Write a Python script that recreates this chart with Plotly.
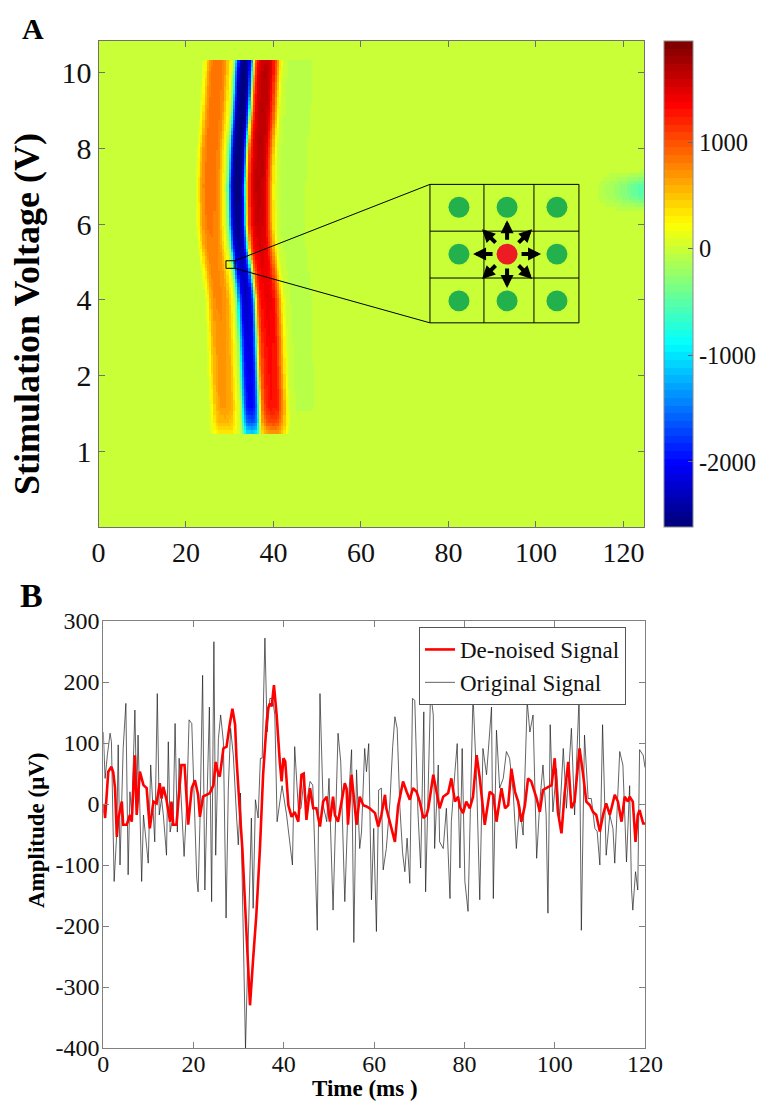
import numpy as np
import plotly.graph_objects as go

# ---------------- Panel A data ----------------
# band rows (axis index: 1->1V, 2->2V, 3->4V, 4->6V, 5->8V, 6->10V)
band_rows = [1.22, 1.4, 1.6, 2.0, 2.5, 3.0, 3.2, 3.41, 3.7, 4.0, 4.5, 5.0, 5.5, 6.0, 6.18]
band_center = [35.0, 34.9, 34.8, 34.5, 34.2, 33.8, 33.4, 32.9, 32.2, 31.8, 31.7, 32.0, 32.7, 33.2, 33.4]
band_amp = [0.45, 0.75, 0.9, 0.92, 0.95, 1.0, 1.0, 1.0, 1.05, 1.1, 1.15, 1.15, 1.15, 1.15, 1.1]
# field-potential profile relative to the negative peak (ms offset, uV)
prof_offset = [-9.6, -8.8, -8.2, -7.2, -5.8, -4.4, -3.7, -3.0, -2.3, -1.7, -1.0, 0.0, 1.0, 1.6, 2.1,
               2.6, 3.4, 4.8, 6.2, 7.3, 8.2, 9.0, 10.5, 14.0, 17.0, 23]
prof_value = [0, 250, 550, 740, 760, 660, 400, 170, -200, -1300, -2100, -2300, -2100, -1300, 150,
              900, 1300, 1450, 1350, 850, 300, -20, -55, -55, -30, 0]
# faint patch at right edge
patch_t = [113, 118, 124.7]
patch_tv = [0, -200, -550]
patch_u = [4.15, 4.38, 4.5, 4.72]
patch_uv = [0, 1, 1, 0]

z_min, z_max = -2610, 1947
y_ticks = [1, 2, 3, 4, 5, 6]
y_ticktext = ["1", "2", "4", "6", "8", "10"]

# ---------------- Panel B data ----------------
orig_t = [0, 0.4, 0.9, 1.5, 1.8, 2.4, 3.0, 3.3, 3.7, 4.1, 4.4, 5.0, 5.5, 5.9, 6.3, 7.0, 7.4, 7.7, 8.5, 8.9,
          9.2, 9.96, 10.5, 10.9, 11.4, 11.96, 12.4, 12.9, 13.3, 14.0, 14.4, 14.8, 15.5, 15.9, 16.4, 16.8,
          17.3, 17.9, 18.5, 19.0, 19.6, 19.9, 20.3, 20.7, 21.0, 21.4, 22.0, 22.5, 22.9, 23.5, 24.0, 24.5,
          24.9, 25.5, 26.0, 26.6, 27.2, 27.7, 28.2, 28.8, 29.5, 29.9, 30.4, 31.0, 31.5, 32.1, 32.8, 33.2,
          33.7, 34.3, 34.8, 35.2, 35.8, 36.3, 36.9, 37.5, 38.0, 38.5, 39.1, 39.6, 40.6, 41.9, 42.4, 43.2,
          43.8, 44.4, 45.0, 45.8, 46.4, 47.4, 48.0, 48.7, 49.5, 50.0, 50.9, 52.0, 52.6, 53.5, 54.2, 55.0,
          55.5, 56.1, 56.8, 57.2, 57.9, 58.3, 58.8, 59.4, 59.9, 60.5, 61.0, 61.6, 62.0, 62.7, 63.5, 64.1,
          64.6, 65.1, 65.7, 66.3, 66.8, 67.3, 67.9, 68.5, 69.0, 69.7, 70.3, 71.0, 71.4, 72.0, 72.5, 73.1,
          73.4, 74.2, 74.5, 75.3, 76.0, 76.8, 77.1, 77.9, 78.4, 79.0, 79.5, 80.1, 80.8, 81.9, 82.7, 83.4,
          84.1, 84.9, 86.0, 86.4, 87.1, 87.8, 88.6, 89.3, 90.0, 90.8, 91.5, 92.2, 93.0, 93.9, 94.5, 95.2,
          96.0, 96.7, 97.4, 98.1, 98.5, 99.0, 99.6, 100.4, 101.1, 101.9, 102.6, 103.7, 104.4, 105.4, 105.9,
          106.6, 107.4, 108.1, 108.9, 109.4, 110.0, 110.6, 111.4, 112.2, 112.9, 113.3, 114.0, 114.4, 115.1,
          115.9, 116.6, 117.0, 117.3, 117.9, 118.4, 118.8, 119.6, 120.0]
orig_v = [118, 42, 80, 116, 102, -127, -46, 97, -100, 4, 91, 165, -116, 20, -18, 154, 4, 113, -127, -18,
          -40, -97, 64, 4, -62, 181, -18, 9, -18, -84, 102, -46, -18, 132, -46, 75,
          4, -86, 4, 138, 132, 64, -34, -122, -144, -34, 211, -141, -18, 159, -160, 266,
          -84, 107, 146, 102, -187, 26, 124, 80, -18, -67, 18, -209, -400, -226, -23, -171,
          7, -23, 75, 75, 272, 118, 173, 173, 146, -29, 4, 30, -18, -100, 94, -7,
          -7, 39, 1, 37, 31, -207, 181, -2, -29, 42, -174, 116, 69, -160, -7, 89,
          -227, 56, -73, -46, 91, 53, 99, -157, -40, -209, 23, 26, -108, -73, 4, 94,
          143, 124, -5, -80, -111, -56, -130, 173, 170, -13, -105, 151, -144, 15, 184, 146,
          -73, 64, -62, -73, -7, -155, -29, 53, 99, -105, 91, -127, -176, 179, 37, -157,
          91, 48, 159, -155, 121, 26, 42, 86, 75, 20, -73, 0, -51, 168, 118, 146,
          -89, 4, 64, -18, -179, 130, -13, 58, -23, 91, -7, 124, -18, 176, -207,
          113, 9, 9, -40, -45, -100, 130, -84, -18, -40, -97, 15, 86, 64,
          -95, 30, -138, -174, -111, -141, 89, 80, 60]

den_t = [0, 0.4, 1.1, 1.8, 2.2, 2.6, 3.0, 3.3, 4.1, 4.4, 5.2, 5.9, 6.3, 7.0, 7.4, 8.1, 8.9, 9.6, 10.3, 11.1,
         11.8, 12.5, 12.9, 13.3, 14.0, 14.8, 15.1, 15.5, 16.2, 16.6, 17.3, 18.0, 18.8, 19.6, 20.3, 21.0,
         21.4, 22.1, 22.9, 23.6, 24.4, 24.9, 25.5, 25.8, 26.6, 27.3, 28.0, 28.6, 29.2, 29.5, 30.3, 30.8,
         31.7, 32.5, 33.2, 33.9, 34.7, 35.4, 36.2, 36.5, 36.9, 37.3, 37.8, 38.4, 39.1, 39.5, 39.9, 40.3,
         41.0, 41.7, 42.4, 43.2, 43.9, 44.4, 45.0, 45.8, 46.5, 47.2, 48.0, 48.7, 49.5, 50.2, 50.9, 51.3,
         52.0, 52.8, 53.5, 53.9, 54.2, 55.0, 55.4, 56.1, 56.8, 57.6, 58.3, 59.0, 60.2, 60.9, 61.6, 62.4,
         62.7, 63.5, 64.6, 65.3, 66.4, 67.2, 67.9, 68.6, 69.4, 70.1, 70.9, 71.6, 72.0, 73.1, 73.8, 74.5,
         75.3, 76.4, 77.1, 77.9, 78.6, 79.0, 79.7, 80.4, 81.2, 81.9, 82.7, 83.4, 84.5, 85.6, 86.4, 87.1,
         88.2, 89.0, 89.7, 90.4, 91.2, 91.9, 92.6, 93.4, 94.1, 94.8, 96.0, 96.7, 97.4, 98.5, 99.3, 100.0,
         100.7, 101.5, 102.2, 103.0, 103.7, 104.4, 105.5, 106.3, 107.0, 107.8, 108.5, 109.2, 110.0, 110.7,
         111.4, 112.2, 113.3, 114.0, 114.8, 115.5, 116.2, 116.6, 117.3, 117.9, 118.4, 118.8, 119.6, 120.0]
den_v = [0, -23, 53, 61, 52, 26, -54, -25, 4, -34, -34, -18, -29, 80, -18, 53, 31, 26, -40, 4,
         1, 34, 9, 28, 7, -29, 4, -34, -34, 4, 64, 64, -34, 26, 39, 15,
         -21, 12, 15, 18, 31, 69, 48, 45, 91, 94, 130, 156, 130, 75, -18, -73,
         -209, -330, -253, -182, -73, 48, 135, 157, 165, 160, 195, 146, 69, 37, 75, 70,
         -2, -21, -13, -29, 48, 50, -26, 26, -7, -7, -37, 4, 12, -29, 12, -18,
         -29, 4, 34, 25, -34, 48, 15, -34, 12, -2, -4, -7, -15, -37, -18, 15,
         -7, -29, -62, -4, 37, 20, 7, 26, 20, 4, -23, -18, -7, 48, 20, -7,
         12, 18, 42, 4, 12, -5, -15, 4, -7, 12, 80, 42, -34, 20, 15, -29,
         26, -7, -2, 58, 20, 4, -29, -2, 42, 37, 9, -13, 23, 28, 31, 75,
         -13, -48, 18, 69, -7, 4, 91, 48, 4, -2, -13, -18, -45, -18,
         1, -18, 15, 4, -29, 12, 4, 12, 4, -62, -18, -10, -32, -32]

amp_ticks = [-400, -300, -200, -100, 0, 100, 200, 300]
time_ticks = [0, 20, 40, 60, 80, 100, 120]
cbar_ticks = [-2000, -1000, 0, 1000]

# ---------------- build heatmap table ----------------
t_grid = np.arange(0, 125.01, 0.5)
u_grid = np.arange(0.0, 6.45, 0.05)
z = np.zeros((len(u_grid), len(t_grid)))
for i, u in enumerate(u_grid):
    if band_rows[0] <= u <= band_rows[-1]:
        c = np.interp(u, band_rows, band_center)
        a = np.interp(u, band_rows, band_amp)
        z[i] += a * np.interp(t_grid - c, prof_offset, prof_value, left=0, right=0)
    w = np.interp(u, patch_u, patch_uv, left=0, right=0)
    if w > 0:
        z[i] += w * np.interp(t_grid, patch_t, patch_tv, left=0, right=0)
z = np.clip(np.round(z), z_min, z_max)

# MATLAB jet(64), discrete
def jet(x):
    r = min(max(1.5 - abs(4 * x - 3), 0), 1)
    g = min(max(1.5 - abs(4 * x - 2), 0), 1)
    b = min(max(1.5 - abs(4 * x - 1), 0), 1)
    return "rgb(%d,%d,%d)" % (round(r * 255), round(g * 255), round(b * 255))

N = 64
jet_scale = []
for k in range(N):
    col = jet(k / (N - 1))
    jet_scale.append([k / N, col])
    jet_scale.append([(k + 1) / N, col])

# page body has an 8px margin: figure is 756x1095 placed at (8, 8) of the 764x1103 window
OFF = 8
W, H = 764 - OFF, 1103 - OFF
def px(x):
    return (x - OFF) / W
def py(y):
    return 1 - (y - OFF) / H

SERIF = "Liberation Serif"

fig = go.Figure()
fig.add_trace(go.Heatmap(
    x=t_grid, y=u_grid, z=z, zmin=z_min, zmax=z_max, colorscale=jet_scale,
    xaxis="x", yaxis="y", hoverinfo="skip",
    colorbar=dict(xref="container", yref="container",
                  x=px(664), xanchor="left", y=py(41), yanchor="top", len=(527 - 41) / H,
                  lenmode="fraction", thickness=29, thicknessmode="pixels", xpad=0, ypad=0,
                  outlinewidth=1, outlinecolor="#8a8a8a", ticks="inside", ticklen=5,
                  tickcolor="#666", tickvals=cbar_ticks,
                  ticktext=[str(v) for v in cbar_ticks],
                  tickfont=dict(family=SERIF, size=24.5, color="#111")),
))

fig.add_trace(go.Scatter(x=orig_t, y=orig_v, mode="lines", name="Original Signal",
                         line=dict(color="rgba(25,25,25,0.85)", width=0.8),
                         xaxis="x2", yaxis="y2"))
fig.add_trace(go.Scatter(x=den_t, y=den_v, mode="lines", name="De-noised Signal",
                         line=dict(color="#ff0000", width=2.6),
                         xaxis="x2", yaxis="y2"))

# ---------------- inset diagram in panel A ----------------
shapes = []
black = dict(color="black", width=1)
shapes.append(dict(type="rect", xref="x", yref="y", x0=29.14, x1=31.2, y0=3.417, y1=3.517, line=black))
shapes.append(dict(type="line", xref="x", yref="y", x0=31.2, y0=3.517, x1=75.77, y1=4.526, line=black))
shapes.append(dict(type="line", xref="x", yref="y", x0=31.2, y0=3.417, x1=75.77, y1=2.697, line=black))
shapes.append(dict(type="rect", xref="x", yref="y", x0=75.77, x1=109.83, y0=2.697, y1=4.526, line=black))
for xv in [88.11, 99.54]:
    shapes.append(dict(type="line", xref="x", yref="y", x0=xv, x1=xv, y0=2.697, y1=4.526, line=black))
for yv in [3.908, 3.289]:
    shapes.append(dict(type="line", xref="x", yref="y", x0=75.77, x1=109.83, y0=yv, y1=yv, line=black))
rx, ry = 10.5 / 4.375, 10.5 / 76
col_x = [82.4, 93.4, 104.8]
row_y = [4.224, 3.605, 2.987]
for j, yc in enumerate(row_y):
    for i, xc in enumerate(col_x):
        color = "#ed1c24" if (i == 1 and j == 1) else "#22b14c"
        shapes.append(dict(type="circle", xref="x", yref="y", x0=xc - rx, x1=xc + rx,
                           y0=yc - ry, y1=yc + ry, fillcolor=color, line=dict(width=0)))

annotations = []
cx, cy = 93.4, 3.605
dirs = [(0, -1), (0, 1), (-1, 0), (1, 0), (-1, -1), (1, -1), (-1, 1), (1, 1)]
for dx, dy in dirs:
    diag = dx != 0 and dy != 0
    tip = 25 if diag else 34
    tail = 10 if diag else 13
    tipx, tipy = dx * tip, dy * tip
    tailx, taily = dx * tail, dy * tail
    annotations.append(dict(x=cx + tipx / 4.375, y=cy - tipy / 76, xref="x", yref="y",
                            ax=tailx - tipx, ay=taily - tipy, axref="pixel", ayref="pixel",
                            showarrow=True, arrowhead=2, arrowsize=0.65, arrowwidth=4,
                            arrowcolor="black", text=""))

annotations += [
    dict(text="<b>A</b>", x=px(33), y=py(28), xref="paper", yref="paper", showarrow=False,
         xanchor="center", yanchor="middle", font=dict(family=SERIF, size=30, color="black")),
    dict(text="<b>B</b>", x=px(31), y=py(595), xref="paper", yref="paper", showarrow=False,
         xanchor="center", yanchor="middle", font=dict(family=SERIF, size=34, color="black")),
    dict(text="<b>Stimulation Voltage (V)</b>", x=px(27), y=py(314), xref="paper", yref="paper",
         showarrow=False, textangle=-90, xanchor="center", yanchor="middle",
         font=dict(family=SERIF, size=36, color="black")),
    dict(text="<b>Amplitude (μV)</b>", x=px(36), y=py(830), xref="paper", yref="paper",
         showarrow=False, textangle=-90, xanchor="center", yanchor="middle",
         font=dict(family=SERIF, size=23, color="black")),
    dict(text="<b>Time (ms )</b>", x=px(365), y=py(1103), xref="paper", yref="paper",
         showarrow=False, xanchor="center", yanchor="bottom", yshift=0,
         font=dict(family=SERIF, size=23, color="black")),
]

axA = dict(showline=True, linecolor="#707070", linewidth=1, mirror="ticks", ticks="inside",
           ticklen=6, tickcolor="#707070", showgrid=False, zeroline=False, automargin=False)
axB = dict(showline=True, linecolor="#808080", linewidth=1, mirror="ticks", ticks="inside",
           ticklen=6, tickcolor="#808080", showgrid=False, zeroline=False, automargin=False)

fig.update_layout(
    width=W, height=H, margin=dict(l=0, r=0, t=0, b=0, autoexpand=False),
    paper_bgcolor="white", plot_bgcolor="white",
    xaxis=dict(domain=[px(98.5), px(644)], range=[0, 124.7], anchor="y",
               tickvals=time_ticks, ticktext=[str(v) for v in time_ticks],
               tickfont=dict(family=SERIF, size=28, color="#111"), **axA),
    yaxis=dict(domain=[py(527), py(41)], range=[0, 6.42], anchor="x",
               tickvals=y_ticks, ticktext=y_ticktext,
               tickfont=dict(family=SERIF, size=30, color="#111"), **axA),
    xaxis2=dict(domain=[px(103.3), px(645)], range=[0, 120], anchor="y2",
                tickvals=time_ticks, ticktext=[str(v) for v in time_ticks], ticklabelstandoff=-6,
                tickfont=dict(family=SERIF, size=24, color="#111"), **axB),
    yaxis2=dict(domain=[py(1048), py(621)], range=[-400, 300], anchor="x2",
                tickvals=amp_ticks, ticktext=[str(v) for v in amp_ticks], ticklabelstandoff=-2,
                tickfont=dict(family=SERIF, size=24, color="#111"), **axB),
    legend=dict(x=px(419), y=py(627), xanchor="left", yanchor="top", traceorder="reversed",
                bgcolor="white", bordercolor="#555", borderwidth=1,
                font=dict(family=SERIF, size=23, color="#111"), tracegroupgap=0),
    showlegend=True,
    shapes=shapes,
    annotations=annotations,
)

fig.write_html("out.html")
